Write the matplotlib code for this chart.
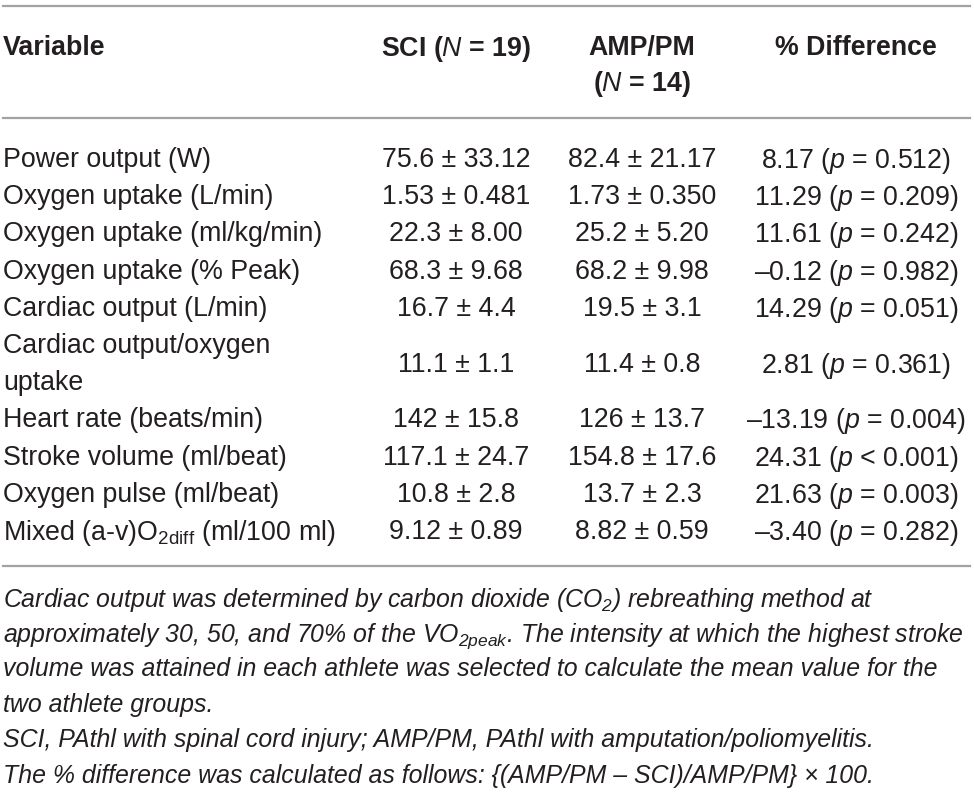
import matplotlib.pyplot as plt
from matplotlib.lines import Line2D

plt.rcParams.update({
    'font.family': ['Liberation Sans', 'DejaVu Sans'],
    'mathtext.fontset': 'custom',
    'mathtext.rm': 'Liberation Sans',
    'mathtext.it': 'Liberation Sans:italic',
    'mathtext.bf': 'Liberation Sans:bold',
})

# --- Table content ---
headers = ["Variable", "SCI ($\\mathit{N}$ = 19)", "AMP/PM\n($\\mathit{N}$ = 14)", "% Difference"]
variables = [
    "Power output (W)",
    "Oxygen uptake (L/min)",
    "Oxygen uptake (ml/kg/min)",
    "Oxygen uptake (% Peak)",
    "Cardiac output (L/min)",
    "Cardiac output/oxygen\nuptake",
    "Heart rate (beats/min)",
    "Stroke volume (ml/beat)",
    "Oxygen pulse (ml/beat)",
    "Mixed (a-v)O$_{\\mathregular{2diff}}$ (ml/100 ml)",
]
sci = ["75.6 ± 33.12", "1.53 ± 0.481", "22.3 ± 8.00", "68.3 ± 9.68", "16.7 ± 4.4",
       "11.1 ± 1.1", "142 ± 15.8", "117.1 ± 24.7", "10.8 ± 2.8", "9.12 ± 0.89"]
amp = ["82.4 ± 21.17", "1.73 ± 0.350", "25.2 ± 5.20", "68.2 ± 9.98", "19.5 ± 3.1",
       "11.4 ± 0.8", "126 ± 13.7", "154.8 ± 17.6", "13.7 ± 2.3", "8.82 ± 0.59"]
pct_diff = ["8.17", "11.29", "11.61", "–0.12", "14.29", "2.81", "–13.19", "24.31", "21.63", "–3.40"]
p_vals = ["= 0.512", "= 0.209", "= 0.242", "= 0.982", "= 0.051", "= 0.361", "= 0.004",
          "< 0.001", "= 0.003", "= 0.282"]
footnotes = [
    "Cardiac output was determined by carbon dioxide (CO$_{\\mathregular{2}}$) rebreathing method at",
    "approximately 30, 50, and 70% of the VO$_{\\mathregular{2peak}}$. The intensity at which the highest stroke",
    "volume was attained in each athlete was selected to calculate the mean value for the",
    "two athlete groups.",
    "SCI, PAthl with spinal cord injury; AMP/PM, PAthl with amputation/poliomyelitis.",
    "The % difference was calculated as follows: {(AMP/PM – SCI)/AMP/PM} × 100.",
]

W, H = 974, 792
fig = plt.figure(figsize=(W / 100, H / 100), dpi=100)
txt_color = '#231f20'
rule_color = '#a3a3a3'
fs = 19.3


def put(x, y, s, **kw):
    kw.setdefault('color', txt_color)
    kw.setdefault('fontsize', fs)
    kw.setdefault('va', 'center_baseline')
    fig.text(x / W, 1 - y / H, s, **kw)


def rule(y):
    fig.add_artist(Line2D([3 / W, 970 / W], [1 - y / H] * 2, color=rule_color, lw=1.6))


col_x = [3, 456, 642, 856]
row_h = 37.2

rule(6)
rule(118)
rule(566)

# header
put(col_x[0], 45, headers[0], ha='left', fontweight='bold')
put(col_x[1], 45, headers[1], ha='center', fontweight='bold')
for k, line in enumerate(headers[2].split("\n")):
    put(col_x[2], 45 + 35 * k, line, ha='center', fontweight='bold')
put(col_x[3], 45, headers[3], ha='center', fontweight='bold')

# body
y = 157
for var, a, b, d, p in zip(variables, sci, amp, pct_diff, p_vals):
    lines = var.split("\n")
    for k, line in enumerate(lines):
        put(col_x[0], y + row_h * k, line, ha='left')
    ym = y + row_h * (len(lines) - 1) / 2
    put(col_x[1], ym, a, ha='center')
    put(col_x[2], ym, b, ha='center')
    put(col_x[3], ym, f"{d} ($\\mathit{{p}}$ {p})", ha='center')
    y += row_h * len(lines)

# footnotes
for k, line in enumerate(footnotes):
    put(3, 596 + 35.5 * k, line, ha='left', fontstyle='italic', fontsize=17.9)

fig.savefig("out.png", dpi=100)
